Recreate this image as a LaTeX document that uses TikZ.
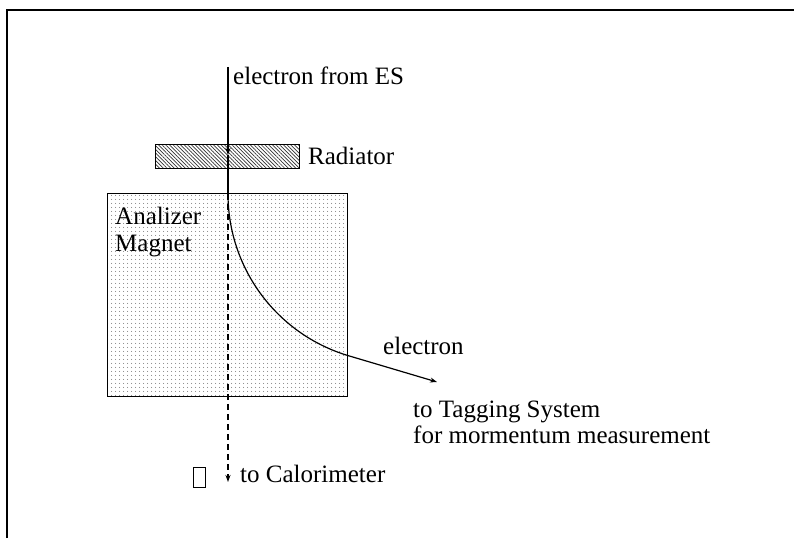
\documentclass[tikz,border=0pt]{standalone}
\usepackage{fontspec}
\setmainfont{Liberation Serif}
\usetikzlibrary{arrows.meta,patterns.meta}
\begin{document}
\begin{tikzpicture}[x=1pt,y=1pt,
  lbl/.style={inner sep=0pt,anchor=base west,font=\fontsize{25}{26}\selectfont},
  beam/.style={line width=1.2pt},
  tip/.style={-{Stealth[length=7pt,width=5pt]}},
  frameline/.style={line width=2.5pt}]
\useasboundingbox (0,0) rectangle (794,538);
% frame
\draw[frameline] (7,0) -- (7,528) -- (800,528);
% magnet
\path[pattern={Dots[distance=4pt,radius=0.55pt]},pattern color=black!75] (107,141) rectangle (347,344);
\draw[line width=1pt] (107,141) rectangle (347,344);
\node[lbl] (mag1) at (115,313) {Analizer};
\node[lbl] (mag2) at (115,286) {Magnet};
% radiator
\path[pattern={Lines[angle=-45,distance=2.6pt,line width=0.7pt]},pattern color=black!80] (155,369) rectangle (299,393);
\draw[line width=1pt] (155,369) rectangle (299,393);
\node[lbl] (rad) at (308,373) {Radiator};
% beam
\coordinate (start) at (228,471);
\coordinate (mid) at (228,383);
\coordinate (bend) at (228,344);
\coordinate (tagtip) at (437,156);
\coordinate (calotip) at (228,56);
\draw[beam,tip] (start) -- (mid);
\draw[beam] (mid) -- (bend);
\draw[beam,tip] (bend) arc[start angle=180,end angle=253.4,radius=168.8] -- (tagtip);
\draw[beam,tip,dash pattern=on 6pt off 4pt] (bend) -- (calotip);
% labels
\node[lbl] (es) at (233,453) {electron from ES};
\node[lbl] (el) at (383,183) {electron};
\node[lbl] (tag1) at (413,121) {to Tagging System};
\node[lbl] (tag2) at (413,95) {for mormentum measurement};
\node[lbl] (calo) at (240,56) {to Calorimeter};
\node[draw,line width=0.8pt,minimum width=12pt,minimum height=20pt,inner sep=0pt,anchor=south west] (gbox) at (193,50) {};
\end{tikzpicture}
\end{document}
